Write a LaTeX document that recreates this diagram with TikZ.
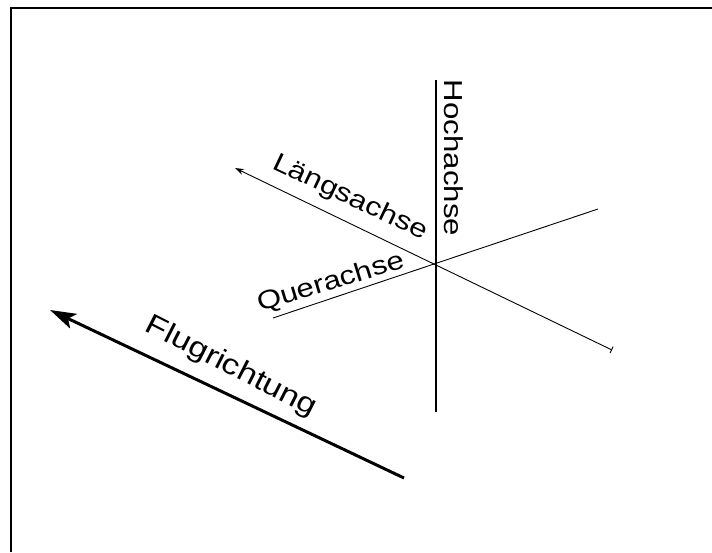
\documentclass[tikz,border=0pt]{standalone}
\usepackage{fontspec}
\setmainfont{Liberation Sans}[FakeStretch=1.2]
\usetikzlibrary{arrows.meta}
\begin{document}
\begin{tikzpicture}[x=1pt,y=-1pt,
  axis/.style={line width=0.9pt},
  lbl/.style={inner sep=0pt,font=\fontsize{26}{30}\selectfont},
  biglbl/.style={inner sep=0pt,font=\fontsize{28.5}{32}\selectfont}]
\useasboundingbox (0,0) rectangle (712,552);
\fill[white] (0,0) rectangle (712,552);
% frame (left and top edges)
\coordinate (fbl) at (11,552);
\coordinate (ftl) at (11,8);
\coordinate (ftr) at (712,8);
\draw[line width=2pt] (fbl) -- (ftl) -- (ftr);
% centre
\coordinate (O) at (436,263);
% Hochachse
\coordinate (hTop) at (436,80);
\coordinate (hBot) at (436,412);
\draw[line width=1.3pt] (hTop) -- (hBot);
% Laengsachse
\coordinate (lTip) at (235,168);
\coordinate (lEnd) at (612,350);
\draw[axis,{Stealth[length=9pt,width=6pt]}-{Bar[width=7pt]}] (lTip) -- (lEnd);
% Querachse
\coordinate (qL) at (273,318);
\coordinate (qR) at (598,209);
\draw[axis] (qL) -- (qR);
% Flugrichtung
\coordinate (fTail) at (404,478);
\coordinate (fTip) at (50,310);
\draw[line width=3pt,-{Stealth[length=26pt,width=16pt,inset=6pt]}] (fTail) -- (fTip);
% labels
\node[lbl,rotate=-90] (hoch) at (454,158) {Hochachse};
\node[lbl,rotate=-25.3] (laengs) at (350,198) {Längsachse};
\node[lbl,rotate=17] (quer) at (331,283) {Querachse};
\node[biglbl,rotate=-27] (flug) at (231,367) {Flugrichtung};
\end{tikzpicture}
\end{document}
